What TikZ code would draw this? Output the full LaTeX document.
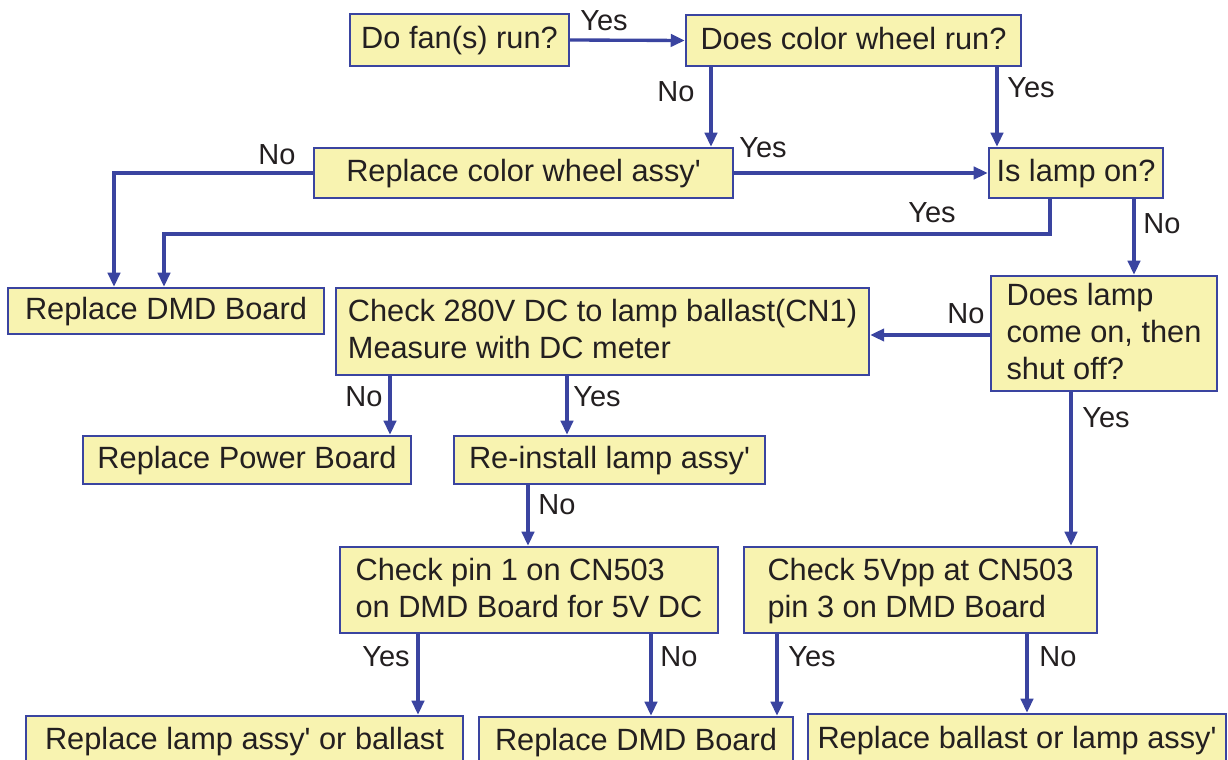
\documentclass[tikz,border=0pt]{standalone}
\usepackage{fontspec}
\setmainfont{Liberation Sans}[Ligatures=TeXOff]
\usetikzlibrary{arrows.meta}
\definecolor{boxfill}{RGB}{248,243,176}
\definecolor{boxline}{RGB}{58,68,160}
\definecolor{txt}{RGB}{35,31,32}
\tikzset{
  box/.style={draw=boxline, fill=boxfill, line width=1.4pt, inner sep=0pt, text=txt,
    font=\fontsize{17.5}{21}\selectfont, align=left, anchor=center, text depth=0.28em},
  arr/.style={draw=boxline, line width=1.9pt, -{Triangle[length=8pt,width=7pt]}},
  lbl/.style={text=txt, font=\fontsize{16.5}{20}\selectfont, inner sep=0pt}
}
\begin{document}
\begin{tikzpicture}[x=0.02cm,y=-0.02cm]
\useasboundingbox (0,0) rectangle (1228,760);
\clip (0,0) rectangle (1228,760);
% boxes
\node[box, minimum width=4.38cm, minimum height=1.04cm] (fan) at (459.5,40) {Do fan(s) run?};
\node[box, minimum width=6.7cm, minimum height=1.02cm] (cw) at (853.5,40.5) {Does color wheel run?};
\node[box, minimum width=8.38cm, minimum height=1.0cm] (rcw) at (523.5,173) {Replace color wheel assy'};
\node[box, minimum width=3.48cm, minimum height=1.0cm] (lamp) at (1076,173) {Is lamp on?};
\node[box, minimum width=6.32cm, minimum height=0.92cm] (dmdA) at (166,311) {Replace DMD Board};
\node[box, minimum width=10.66cm, minimum height=1.74cm] (chk) at (602.5,331.5) {Check 280V DC to lamp ballast(CN1)\\Measure with DC meter};
\node[box, minimum width=4.52cm, minimum height=2.3cm] (come) at (1104,333.5) {Does lamp\\come on, then\\shut off?};
\node[box, minimum width=6.56cm, minimum height=0.96cm] (power) at (247,460) {Replace Power Board};
\node[box, minimum width=6.22cm, minimum height=0.96cm] (reinst) at (609.5,460) {Re-install lamp assy'};
\node[box, minimum width=7.56cm, minimum height=1.72cm] (pin) at (529,590) {Check pin 1 on CN503\\on DMD Board for 5V DC};
\node[box, minimum width=7.06cm, minimum height=1.72cm] (vpp) at (920.5,590) {Check 5Vpp at CN503\\pin 3 on DMD Board};
\node[box, minimum width=8.74cm, minimum height=1.0cm] (rlamp) at (244.5,741) {Replace lamp assy' or ballast};
\node[box, minimum width=6.28cm, minimum height=0.98cm] (dmdB) at (636,741.5) {Replace DMD Board};
\node[box, minimum width=8.36cm, minimum height=1.04cm] (rball) at (1017,740) {Replace ballast or lamp assy'};
% connectors
\draw[arr] (fan.east) -- (cw.west);
\draw[arr] (cw.south -| 711,0) -- (rcw.north -| 711,0);
\draw[arr] (cw.south -| 997,0) -- (lamp.north -| 997,0);
\draw[arr] (rcw.east) -- (lamp.west);
\draw[arr] (rcw.west) -| (dmdA.north -| 114,0);
\coordinate (bendL) at (164,234);
\draw[arr] (lamp.south -| 1050,0) |- (bendL) -- (dmdA.north -| bendL);
\draw[arr] (lamp.south -| 1134,0) -- (come.north -| 1134,0);
\draw[arr] (come.west |- 0,335) -- (chk.east |- 0,335);
\draw[arr] (come.south -| 1071,0) -- (vpp.north -| 1071,0);
\draw[arr] (chk.south -| 390,0) -- (power.north -| 390,0);
\draw[arr] (chk.south -| 567,0) -- (reinst.north -| 567,0);
\draw[arr] (reinst.south -| 528,0) -- (pin.north -| 528,0);
\draw[arr] (pin.south -| 418,0) -- (rlamp.north -| 418,0);
\draw[arr] (pin.south -| 651,0) -- (dmdB.north -| 651,0);
\draw[arr] (vpp.south -| 777,0) -- (dmdB.north -| 777,0);
\draw[arr] (vpp.south -| 1027,0) -- (rball.north -| 1027,0);
% labels
\node[lbl] (l1) at (604,21) {Yes};
\node[lbl] (l2) at (676,92) {No};
\node[lbl] (l3) at (1031,88) {Yes};
\node[lbl] (l4) at (763,148) {Yes};
\node[lbl] (l5) at (277,155) {No};
\node[lbl] (l6) at (932,213) {Yes};
\node[lbl] (l7) at (1162,224) {No};
\node[lbl] (l8) at (966,314) {No};
\node[lbl] (l9) at (1106,418) {Yes};
\node[lbl] (l10) at (364,397) {No};
\node[lbl] (l11) at (597,397) {Yes};
\node[lbl] (l12) at (557,505) {No};
\node[lbl] (l13) at (386,657) {Yes};
\node[lbl] (l14) at (679,657) {No};
\node[lbl] (l15) at (812,657) {Yes};
\node[lbl] (l16) at (1058,657) {No};
\end{tikzpicture}
\end{document}
